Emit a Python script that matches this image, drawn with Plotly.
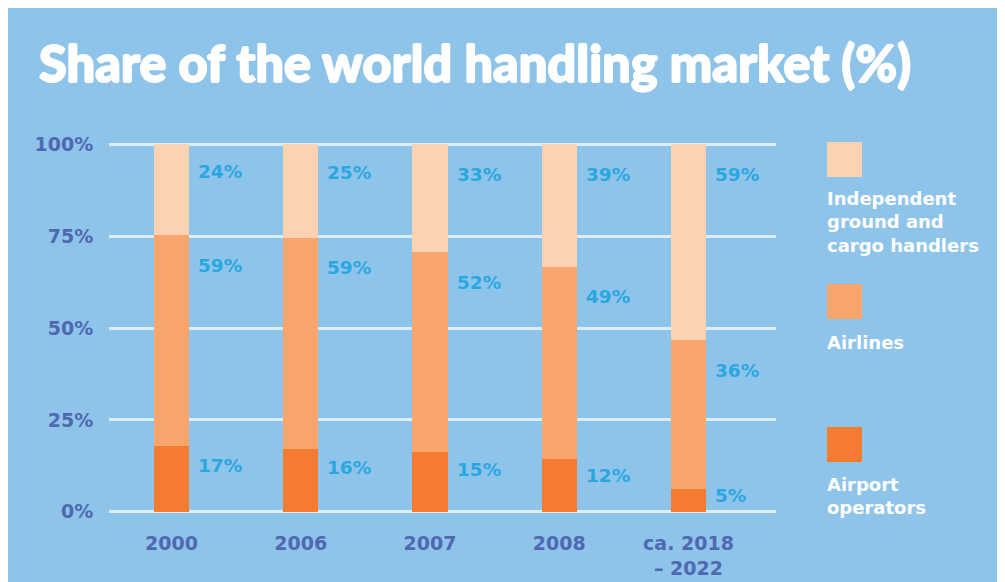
import plotly.graph_objects as go

# ---------------- data ----------------
categories = ["2000", "2006", "2007", "2008", "ca. 2018<br>– 2022"]
# drawn segment heights
airport_bar = [18.0, 17.1, 16.3, 14.3, 6.2]
airline_bar = [57.3, 57.4, 54.3, 52.3, 40.5]
independent_bar = [24.7, 25.5, 29.4, 33.4, 53.3]
# printed labels
airport_label = [17, 16, 15, 12, 5]
airline_label = [59, 59, 52, 49, 36]
independent_label = [24, 25, 33, 39, 59]
series_names = ["Airport<br>operators", "Airlines", "Independent<br>ground and<br>cargo handlers"]
y_ticks = [0, 25, 50, 75, 100]
y_tick_text = ["0%", "25%", "50%", "75%", "100%"]

# ---------------- style ----------------
OX, OY = 8, 8            # page body margin
W, H = 997, 574
PAD = 0.6
PXU = 3.68               # px per percentage point
L = 109 - OX
R = W - (776 - OX)
T = int(round((144 - OY) - PAD * PXU))
B = int(round(H - (512 - OY) - PAD * PXU))
PW, PH = W - L - R, H - T - B
BG = "#8EC4EA"
COLORS = ["#F47B2F", "#F8A56E", "#FBD3B3"]
LABEL_C = "#29A7E1"
TICK_C = "#5068B2"
FONT = "DejaVu Sans"
TFONT = "Lato"
BW = 0.271


def px_x(px):
    return (px - OX - L) / PW


def px_y(py):
    return (H - B - (py - OY)) / PH


fig = go.Figure()
series_bars = [airport_bar, airline_bar, independent_bar]
series_labels = [airport_label, airline_label, independent_label]
xs = list(range(len(categories)))

for name, vals, col in zip(series_names, series_bars, COLORS):
    fig.add_trace(go.Bar(x=xs, y=vals, name=name.replace("<br>", " "), width=BW,
                         marker=dict(color=col, line=dict(width=0)),
                         hoverinfo="skip", showlegend=False))

annotations = []
base = [0.0] * len(categories)
for s, (vals, labs) in enumerate(zip(series_bars, series_labels)):
    for i, (v, lab) in enumerate(zip(vals, labs)):
        top = base[i] + v
        seg_px = v * PXU
        off = min(30, 0.3 * seg_px) if s > 0 else min(20, 0.3 * seg_px)
        annotations.append(dict(x=i + BW / 2, y=top, xref="x", yref="y", text=f"{lab}%",
                                showarrow=False, xanchor="left", yanchor="middle",
                                xshift=7, yshift=-off,
                                font=dict(family=FONT, size=18.5, color=LABEL_C, weight="bold")))
        base[i] = top

# title
shadow = ",".join(f"{dx}px {dy}px 0 white" for dx, dy in
                  [(0.9, 0), (-0.9, 0), (0, 0.8), (0, -0.8)])
annotations.append(dict(x=px_x(37), y=px_y(63), xref="paper", yref="paper",
                        text="Share of the world handling market (%)", showarrow=False,
                        xanchor="left", yanchor="middle",
                        font=dict(family=TFONT, size=50.5, color="white", weight=900,
                                  shadow=shadow)))

# legend
shapes = []
legend_sq = [(427, 462), (284, 319), (142, 177)]
legend_txt_top = [472, 330, 186]
for (y0, y1), ty, name, col in zip(legend_sq, legend_txt_top, series_names, COLORS):
    shapes.append(dict(type="rect", xref="paper", yref="paper", x0=px_x(827), x1=px_x(862),
                       y0=px_y(y1), y1=px_y(y0), fillcolor=col, line=dict(width=0)))
    annotations.append(dict(x=px_x(825), y=px_y(ty), xref="paper", yref="paper", text=name,
                            showarrow=False, xanchor="left", yanchor="top", align="left",
                            font=dict(family=FONT, size=18, color="white", weight="bold")))

fig.update_layout(
    width=W, height=H, barmode="stack",
    margin=dict(l=L, r=R, t=T, b=B, pad=0, autoexpand=False),
    paper_bgcolor=BG, plot_bgcolor=BG,
    shapes=shapes, annotations=annotations, bargap=0,
    xaxis=dict(range=[-0.4836, 4.677], tickmode="array", tickvals=xs, ticktext=categories,
               showgrid=False, zeroline=False, showline=False, ticks="outside", ticklen=12,
               tickcolor="rgba(0,0,0,0)", automargin=False,
               tickfont=dict(family=FONT, size=19, color=TICK_C, weight="bold")),
    yaxis=dict(range=[-PAD, 100 + PAD], tickmode="array", tickvals=y_ticks, ticktext=y_tick_text,
               showgrid=True, gridcolor="#DCEEFA", gridwidth=2.5, zeroline=False, showline=False,
               ticks="outside", ticklen=11, tickcolor="rgba(0,0,0,0)", automargin=False,
               tickfont=dict(family=FONT, size=19, color=TICK_C, weight="bold")),
)

fig.write_html("out.html")
